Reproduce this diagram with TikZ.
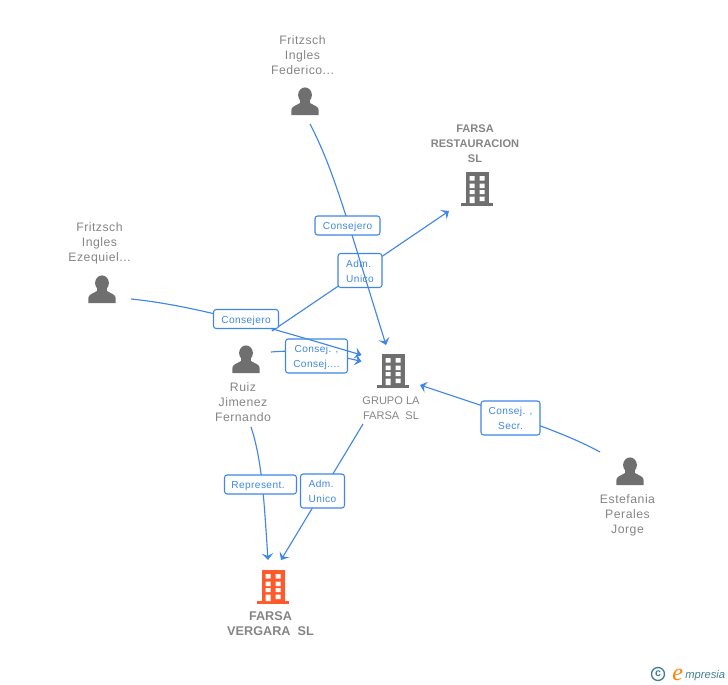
\documentclass[tikz,border=0pt]{standalone}
\usepackage{fontspec}
\setmainfont{Liberation Sans}
\newfontfamily\logofont{Liberation Serif}
\newfontfamily\spacedfont[LetterSpace=4]{Liberation Sans}
\usetikzlibrary{arrows.meta}
\definecolor{edgeblue}{HTML}{3F86E6}
\definecolor{nodegray}{HTML}{6F6F6F}
\definecolor{textgray}{HTML}{858585}
\definecolor{accent}{HTML}{FF5A2B}
\definecolor{logoteal}{HTML}{3F7F8F}
\newcommand\tagtext[2][c]{\raisebox{-3pt}[0pt][0pt]{\begin{tabular}{@{}#1@{}}#2\end{tabular}}}
\tikzset{
  x=0.75pt,y=-0.75pt,
  link/.style={draw=edgeblue,line width=0.85pt,-{Stealth[length=5pt,width=8.5pt,inset=2pt]}},
  tag/.style={draw=edgeblue,line width=0.8pt,rounded corners=2pt,fill=white,text=edgeblue,font=\spacedfont\fontsize{7.6}{11.2}\selectfont,inner sep=0pt},
  tagone/.style={tag,minimum height=19*0.75pt},
  tagtwo/.style={tag,minimum height=34*0.75pt},
  pname/.style={text=textgray,font=\spacedfont\fontsize{9.2}{11.2}\selectfont,align=center,inner sep=0pt},
  bname/.style={text=textgray,font=\fontsize{8.3}{11.2}\selectfont\bfseries,align=center,inner sep=0pt},
  gname/.style={text=textgray,font=\fontsize{8.3}{11.2}\selectfont,align=center,inner sep=0pt},
  person/.pic={
    \fill[nodegray] (0,-7) ellipse (6.9 and 7.6);
    \fill[nodegray] (-13.6,13) -- (-13.6,8) .. controls (-13.4,4.5) and (-10,4) .. (-5,1) -- (5,1) .. controls (10,4) and (13.4,4.5) .. (13.6,8) -- (13.6,13) -- cycle;
    \fill[nodegray] (-4.8,-4) rectangle (4.8,4);
  },
  building/.pic={
    \fill[pic actions] (-11.5,-17) rectangle (11.5,14);
    \fill[pic actions] (-16,14) rectangle (16,17);
    \fill[white] (-7.3,-13) rectangle (-2.3,-8.3) (2.7,-13) rectangle (7.7,-8.3)
                 (-7.3,-5.5) rectangle (-2.3,-1) (2.7,-5.5) rectangle (7.7,-1)
                 (-7.3,1) rectangle (-2.3,5) (2.7,1) rectangle (7.7,5)
                 (-7.3,7.5) rectangle (-2.3,14) (2.7,7.5) rectangle (7.7,12);
  }
}
\begin{document}
\begin{tikzpicture}
\useasboundingbox (0,0) rectangle (728,685);

% Free ends of the connectors
\coordinate (fedA) at (310,124);
\coordinate (ezeA) at (131,299);
\coordinate (ruiA) at (271,352);
\coordinate (ruiB) at (251,427);
\coordinate (ruiC) at (272,331);
\coordinate (gruA) at (363,424);
\coordinate (estA) at (600,452);
\coordinate (gruInT) at (386,345);
\coordinate (gruInL) at (361.5,361.5);
\coordinate (gruInLb) at (361.5,355);
\coordinate (gruInR) at (420,385);
\coordinate (verIn) at (268,560);
\coordinate (verInB) at (281,560);
\coordinate (resIn) at (449,211);

% People
\pic at (305,102) {person};
\pic at (102,290) {person};
\pic at (246,360) {person};
\pic at (630,472) {person};

% Companies
\pic[fill=nodegray] at (477,189) {building};
\pic[fill=nodegray] at (393,371) {building};
\pic[fill=accent] at (273,587) {building};

% Names
\node[pname] (nFed) at (302.5,55.5) {Fritzsch\\Ingles\\Federico...};
\node[pname] (nEze) at (99.5,243) {Fritzsch\\Ingles\\Ezequiel...};
\node[pname] (nRui) at (243,402) {Ruiz\\Jimenez\\Fernando};
\node[pname] (nEst) at (627.5,515) {Estefania\\Perales\\Jorge};
\node[bname] (nRes) at (475,143.5) {FARSA\\RESTAURACION\\SL};
\node[gname] (nGru) at (391,408) {GRUPO LA\\FARSA\ \ SL};
\node[bname,font=\fontsize{9.5}{11.2}\selectfont\bfseries] (nVer) at (270.5,623.5) {FARSA\\VERGARA\ \ SL};

% Lower layer: Adm. Unico to Restauracion and its label
\draw[link] (ruiC) -- (resIn);
\node[tagtwo,minimum width=44*0.75pt] (tAdmA) at (360,270.5) {\tagtext[l]{Adm.\\Unico}};

% Consej. label from Ruiz
\draw[link] (ruiA) .. controls (300,349) and (340,356) .. (gruInL);
\node[tagtwo,minimum width=62*0.75pt] (tCon) at (316.5,356) {\tagtext{Consej. ,\\Consej....}};

% Upper connectors
\draw[link] (ezeA) .. controls (200,306) and (280,331) .. (gruInLb);
\draw[link] (fedA) .. controls (334,170) and (347,220) .. (gruInT);
\draw[link] (estA) .. controls (560,430) and (500,412) .. (gruInR);
\draw[link] (ruiB) .. controls (262,460) and (264,500) .. (verIn);
\draw[link] (gruA) -- (verInB);

% Labels on top
\node[tagone,minimum width=65*0.75pt] (tFed) at (347.5,225.5) {\tagtext{Consejero}};
\node[tagone,minimum width=65*0.75pt] (tEze) at (246,319) {\tagtext{Consejero}};
\node[tagone,minimum width=72*0.75pt] (tRep) at (260.5,484.5) {\tagtext{Represent.\kern3.75pt}};
\node[tagtwo,minimum width=44*0.75pt] (tAdmB) at (322.5,491) {\tagtext[l]{Adm.\\Unico}};
\node[tagtwo,minimum width=59*0.75pt] (tSec) at (510.5,418) {\tagtext{Consej. ,\\Secr.}};

% Logo
\node[draw=logoteal,line width=1pt,circle,minimum size=13*0.75pt,inner sep=0pt,text=logoteal,font=\fontsize{8}{8}\selectfont\bfseries] (logoC) at (658,674) {c};
\node[text=orange,font=\logofont\itshape\fontsize{18}{18}\selectfont,inner sep=0pt,anchor=base west] (logoE) at (672,680) {e};
\node[text=logoteal,font=\itshape\fontsize{8.4}{9}\selectfont,inner sep=0pt,anchor=base west] (logoT) at (685,678) {mpresia};
\end{tikzpicture}
\end{document}
